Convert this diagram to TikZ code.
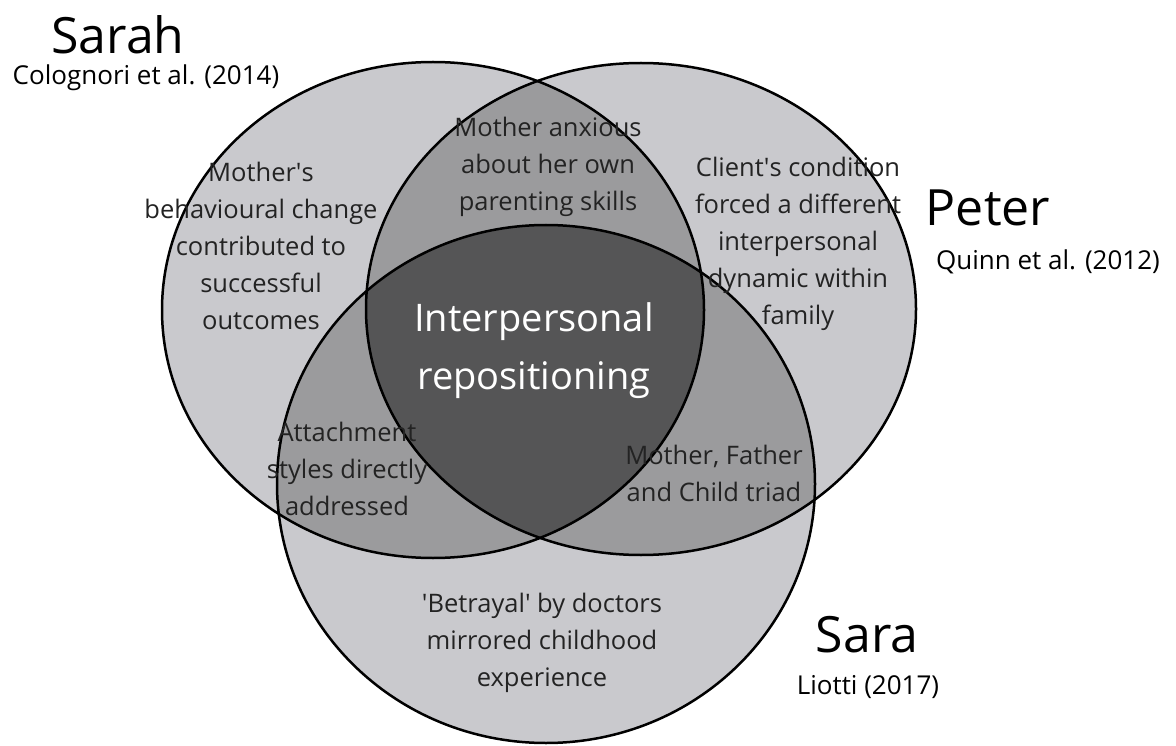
\documentclass[tikz,border=0pt]{standalone}
\usepackage{fontspec}
\setmainfont{Open Sans}

\definecolor{outergrey}{RGB}{201,201,205}
\definecolor{pairgrey}{RGB}{155,155,157}
\definecolor{coregrey}{RGB}{85,85,86}
\definecolor{textgrey}{RGB}{35,35,35}

\newcommand{\sarahset}{(433,310) ellipse [x radius=271pt, y radius=248pt]}
\newcommand{\peterset}{(641,309) ellipse [x radius=275pt, y radius=246pt]}
\newcommand{\saraset}{(546,484) ellipse [x radius=269pt, y radius=259pt]}

\tikzset{
  person/.style={font=\fontsize{50}{56}\selectfont, text=black, inner sep=0pt},
  study/.style={font=\fontsize{26}{30}\selectfont, text=black, inner sep=0pt},
  theme/.style={align=center, font=\fontsize{25.5}{37}\selectfont, text=textgrey, inner sep=0pt},
  core/.style={align=center, font=\fontsize{38}{58}\selectfont, text=white, inner sep=0pt},
  outline/.style={draw=black, line width=2.5pt}
}

\begin{document}
\begin{tikzpicture}[x=1pt,y=-1pt]
  \useasboundingbox[fill=white] (0,0) rectangle (1176,746);

  \fill[outergrey] \sarahset;
  \fill[outergrey] \peterset;
  \fill[outergrey] \saraset;
  \begin{scope}
    \clip \sarahset;
    \fill[pairgrey] \peterset;
    \fill[pairgrey] \saraset;
  \end{scope}
  \begin{scope}
    \clip \peterset;
    \fill[pairgrey] \saraset;
  \end{scope}
  \begin{scope}
    \clip \sarahset;
    \clip \peterset;
    \fill[coregrey] \saraset;
  \end{scope}
  \draw[outline] \sarahset;
  \draw[outline] \peterset;
  \draw[outline] \saraset;

  \node[person] (sarah) at (118,35) {Sarah};
  \node[study] (sarahref) at (146,78) {Colognori et al. (2014)};
  \node[person] (peter) at (988,208) {Peter};
  \node[study] (peterref) at (1048,262) {Quinn et al. (2012)};
  \node[person] (sara) at (867,635) {Sara};
  \node[study] (sararef) at (868,687) {Liotti (2017)};

  \node[theme] (sarahonly) at (261,246) {Mother\textquotesingle s\\behavioural change\\contributed to\\successful\\outcomes};
  \node[theme] (sarahpeter) at (548,167) {Mother anxious\\about her own\\parenting skills};
  \node[theme] (peteronly) at (798,244) {Client\textquotesingle s condition\\forced a different\\interpersonal\\dynamic within\\family};
  \node[core] (all) at (534,351) {Interpersonal\\repositioning};
  \node[theme] (sarahsara) at (347,469) {Attachment\\styles directly\\addressed};
  \node[theme] (petersara) at (714,473) {Mother, Father\\and Child triad};
  \node[theme] (saraonly) at (542,643) {\textquotesingle Betrayal\textquotesingle\ by doctors\\mirrored childhood\\experience};
\end{tikzpicture}
\end{document}
